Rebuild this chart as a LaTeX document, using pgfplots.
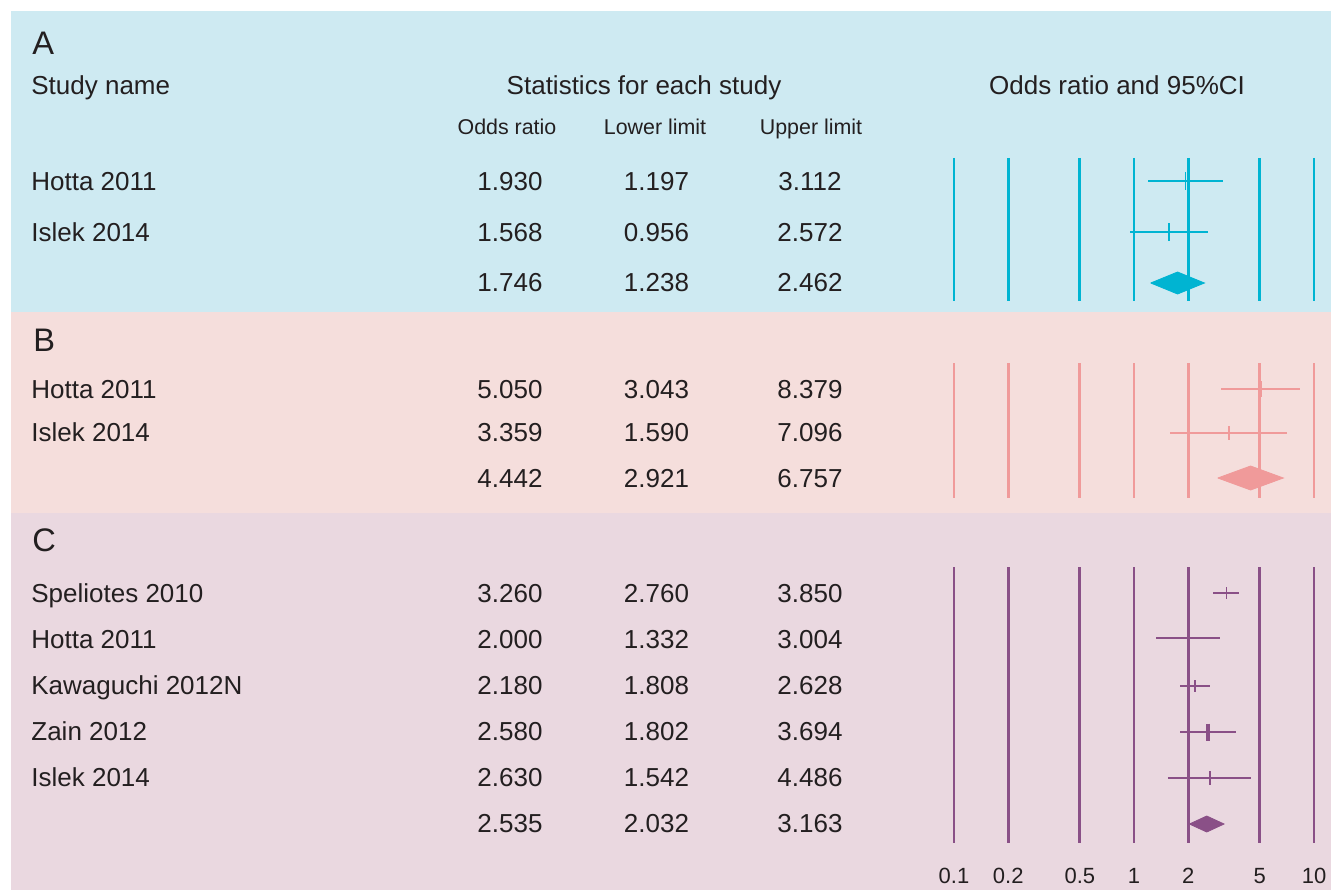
\documentclass[border=0pt]{standalone}
\usepackage{pgfplots}
\pgfplotsset{compat=1.18}
\usepackage{fontspec}
\setmainfont{Liberation Sans}
\definecolor{bgA}{RGB}{206,234,242}
\definecolor{bgB}{RGB}{245,222,220}
\definecolor{bgC}{RGB}{234,216,224}
\definecolor{lnA}{RGB}{0,180,210}
\definecolor{lnB}{RGB}{240,154,154}
\definecolor{lnC}{RGB}{138,80,135}
\definecolor{txt}{RGB}{35,31,32}
\newcommand{\fbig}{\fontsize{16.3}{18}\selectfont}
\newcommand{\fmid}{\fontsize{13}{15}\selectfont}
\newcommand{\fsml}{\fontsize{10.7}{12}\selectfont}
\newcommand{\ftck}{\fontsize{11}{12}\selectfont}
\begin{document}
\begin{tikzpicture}
\begin{scope}[x=0.5pt,y=-0.5pt,shift={(0pt,445pt)}]
\path[use as bounding box] (0,0) rectangle (1331,890);
\fill[white] (0,0) rectangle (1331,890);
\fill[bgA] (11,11) rectangle (1331,312);
\fill[bgB] (11,312) rectangle (1331,513);
\fill[bgC] (11,513) rectangle (1331,890);
\begin{scope}[every node/.style={inner sep=0pt, text=txt}]
\node[anchor=base west,font=\fbig] at (32,55) {A};
\node[anchor=base west,font=\fmid] at (31,95) {Study name};
\node[anchor=base,font=\fmid] at (644,95) {Statistics for each study};
\node[anchor=base,font=\fmid] at (1117,95) {Odds ratio and 95\%CI};
\node[anchor=base,font=\fsml] at (507,135) {Odds ratio};
\node[anchor=base,font=\fsml] at (655,135) {Lower limit};
\node[anchor=base,font=\fsml] at (811,135) {Upper limit};
\foreach \nm/\orr/\lo/\hi/\yy in {Hotta 2011/1.930/1.197/3.112/191, Islek 2014/1.568/0.956/2.572/241.5, {}/1.746/1.238/2.462/291.5,
  Hotta 2011/5.050/3.043/8.379/398, Islek 2014/3.359/1.590/7.096/441.5, {}/4.442/2.921/6.757/487,
  Speliotes 2010/3.260/2.760/3.850/602.5, Hotta 2011/2.000/1.332/3.004/648, Kawaguchi 2012N/2.180/1.808/2.628/694.5,
  Zain 2012/2.580/1.802/3.694/740.5, Islek 2014/2.630/1.542/4.486/786.7, {}/2.535/2.032/3.163/832.7}{
  \node[anchor=base west,font=\fmid] at (31,\yy) {\nm};
  \node[anchor=base,font=\fmid] at (510,\yy) {\orr};
  \node[anchor=base,font=\fmid] at (656.5,\yy) {\lo};
  \node[anchor=base,font=\fmid] at (810,\yy) {\hi};
}
\node[anchor=base west,font=\fbig] at (33,351.7) {B};
\node[anchor=base west,font=\fbig] at (32,551.7) {C};
\end{scope}
\end{scope}

% ---------- Panel A forest ----------
\begin{axis}[scale only axis, width=180pt, xmode=log, xmin=0.1, xmax=10, y dir=reverse,
  xtick={0.1,0.2,0.5,1,2,5,10}, xticklabels={}, ytick=\empty, yticklabels={}, xmajorgrids, axis line style={draw=none},
  major tick length=0pt, minor tick length=0pt, clip=false, anchor=south west,
  at={(477pt,294.5pt)}, height=71.5pt, ymin=158, ymax=301,
  major grid style={line width=1.4pt, color=lnA}]
\addplot[lnA, line width=1.4pt] coordinates {(1.197,181) (3.112,181)};
\addplot[lnA, line width=0.7pt, only marks, mark=|, mark size=4.5pt] coordinates {(1.930,181)};
\addplot[lnA, line width=1.4pt] coordinates {(0.956,232) (2.572,232)};
\addplot[lnA, line width=0.8pt, only marks, mark=|, mark size=4.5pt] coordinates {(1.568,232)};
\addplot[draw=lnA, fill=lnA, line width=0.4pt] coordinates {(1.238,283) (1.746,272) (2.462,283) (1.746,294) (1.238,283)};
\end{axis}

% ---------- Panel B forest ----------
\begin{axis}[scale only axis, width=180pt, xmode=log, xmin=0.1, xmax=10, y dir=reverse,
  xtick={0.1,0.2,0.5,1,2,5,10}, xticklabels={}, ytick=\empty, yticklabels={}, xmajorgrids, axis line style={draw=none},
  major tick length=0pt, minor tick length=0pt, clip=false, anchor=south west,
  at={(477pt,196pt)}, height=67.5pt, ymin=363, ymax=498,
  major grid style={line width=1.4pt, color=lnB}]
\addplot[lnB, line width=1.4pt] coordinates {(3.043,389) (8.379,389)};
\addplot[lnB, line width=1pt, only marks, mark=|, mark size=4pt] coordinates {(5.050,389)};
\addplot[lnB, line width=1.4pt] coordinates {(1.590,433) (7.096,433)};
\addplot[lnB, line width=1.2pt, only marks, mark=|, mark size=3.3pt] coordinates {(3.359,433)};
\addplot[draw=lnB, fill=lnB, line width=0.4pt] coordinates {(2.921,478) (4.442,466) (6.757,478) (4.442,490) (2.921,478)};
\end{axis}

% ---------- Panel C forest ----------
\begin{axis}[scale only axis, width=180pt, xmode=log, xmin=0.1, xmax=10, y dir=reverse,
  xtick={0.1,0.2,0.5,1,2,5,10}, xticklabels={}, ytick=\empty, yticklabels={}, xmajorgrids, axis line style={draw=none},
  major tick length=0pt, minor tick length=0pt, clip=false, anchor=south west,
  at={(477pt,23.5pt)}, height=138pt, ymin=567, ymax=843,
  major grid style={line width=1.4pt, color=lnC}]
\addplot[lnC, line width=1.4pt] coordinates {(2.760,593) (3.850,593)};
\addplot[lnC, line width=0.7pt, only marks, mark=|, mark size=3pt] coordinates {(3.260,593)};
\addplot[lnC, line width=1.4pt] coordinates {(1.332,638) (3.004,638)};
\addplot[lnC, line width=0.7pt, only marks, mark=|, mark size=3pt] coordinates {(2.000,638)};
\addplot[lnC, line width=1.4pt] coordinates {(1.808,686) (2.628,686)};
\addplot[lnC, line width=1.3pt, only marks, mark=|, mark size=3pt] coordinates {(2.180,686)};
\addplot[lnC, line width=1.4pt] coordinates {(1.802,732) (3.694,732)};
\addplot[lnC, line width=2pt, only marks, mark=|, mark size=4.25pt] coordinates {(2.580,732)};
\addplot[lnC, line width=1.4pt] coordinates {(1.542,778) (4.486,778)};
\addplot[lnC, line width=1pt, only marks, mark=|, mark size=3.3pt] coordinates {(2.630,778)};
\addplot[draw=lnC, fill=lnC, line width=0.4pt] coordinates {(2.032,824) (2.535,816) (3.163,824) (2.535,832) (2.032,824)};
\node[anchor=base, inner sep=0pt, text=txt, font=\ftck] at (axis cs:0.1,883) {0.1};
\node[anchor=base, inner sep=0pt, text=txt, font=\ftck] at (axis cs:0.2,883) {0.2};
\node[anchor=base, inner sep=0pt, text=txt, font=\ftck] at (axis cs:0.5,883) {0.5};
\node[anchor=base, inner sep=0pt, text=txt, font=\ftck] at (axis cs:1,883) {1};
\node[anchor=base, inner sep=0pt, text=txt, font=\ftck] at (axis cs:2,883) {2};
\node[anchor=base, inner sep=0pt, text=txt, font=\ftck] at (axis cs:5,883) {5};
\node[anchor=base, inner sep=0pt, text=txt, font=\ftck] at (axis cs:10,883) {10};
\end{axis}
\end{tikzpicture}
\end{document}
